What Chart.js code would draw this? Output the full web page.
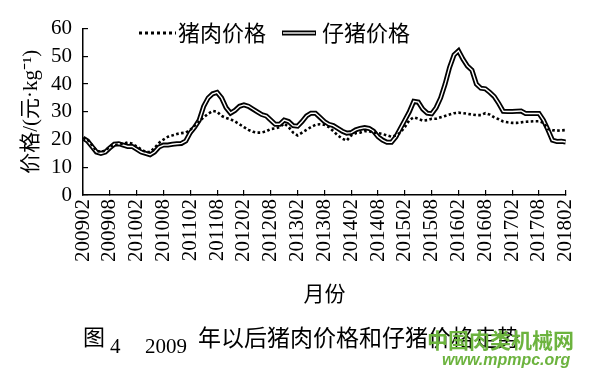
<!DOCTYPE html>
<html>
<head>
<meta charset="utf-8">
<script src="https://cdn.jsdelivr.net/npm/chart.js@4.4.1/dist/chart.umd.min.js"></script>
<style>
html,body{margin:0;padding:0;background:#fff;}
#wrap{position:relative;width:600px;height:371px;}
</style>
</head>
<body>
<div id="wrap"><canvas id="c" width="600" height="371"></canvas></div>
<script>
// x tick labels (every 6 months, 2009-02 .. 2018-02)
const tickLabels = ['200902','200908','201002','201008','201102','201108','201202','201208',
  '201302','201308','201402','201408','201502','201508','201602','201608','201702','201708','201802'];
const monthsPerTick = 6;

// 猪肉价格 (pork price, yuan/kg), monthly 2009-02 .. 2018-02
const porkPrice = [
  20.5,20.0,18.0,16.0,15.5,16.0,17.5,18.0,18.3,18.5,
  19.0,18.5,17.5,16.5,15.5,15.5,17.0,18.8,20.0,21.0,
  21.5,22.0,22.3,22.5,23.5,25.0,26.5,28.0,29.3,30.3,
  30.0,28.5,27.8,27.3,26.5,25.5,24.5,23.5,22.8,22.5,
  22.5,23.0,23.8,24.0,24.5,25.8,24.5,22.5,21.5,22.5,
  23.5,24.5,25.3,25.5,25.3,24.5,23.0,21.5,20.3,19.6,
  21.5,22.3,22.5,23.0,23.0,22.5,22.3,22.0,21.5,21.0,
  21.5,22.5,24.5,27.0,28.0,27.5,26.8,27.0,27.5,27.5,
  28.0,28.5,29.0,29.5,29.7,29.5,29.3,29.0,28.8,28.8,
  29.5,29.0,28.0,27.3,26.5,26.2,26.0,26.0,26.2,26.4,
  26.5,26.6,26.6,26.0,23.8,23.4,23.2,23.3,23.4
];

// 仔猪价格 (piglet price, yuan/kg), monthly 2009-02 .. 2018-02
const pigletPrice = [
  20.5,19.5,17.5,15.5,15.0,15.5,17.0,18.3,18.5,18.0,
  17.5,17.5,16.5,15.5,15.0,14.5,15.5,17.3,18.0,18.0,
  18.3,18.5,18.6,19.5,22.5,24.5,27.0,32.0,35.0,36.5,
  37.0,35.0,31.5,29.5,30.5,32.0,32.5,32.0,31.0,30.0,
  29.0,28.5,27.0,25.5,25.5,27.0,26.5,25.0,24.8,26.5,
  28.5,29.5,29.5,28.0,26.5,25.5,25.0,24.0,23.0,22.3,
  22.5,23.5,24.0,24.3,24.0,23.0,21.0,19.8,19.0,19.0,
  21.0,24.0,27.0,30.0,33.8,33.5,31.0,29.5,29.3,31.5,
  35.0,40.0,46.0,50.5,52.0,49.0,46.5,45.0,40.0,38.5,
  38.3,37.0,35.5,33.0,30.2,30.1,30.1,30.2,30.3,29.4,
  29.4,29.4,29.4,27.0,23.5,19.8,19.3,19.4,19.1
];

const seriesNames = ['猪肉价格', '仔猪价格'];
const yTitle = '价格/(元·kg⁻¹)';
const xTitle = '月份';

const SERIF = "'Liberation Serif', 'Times New Roman', serif";
const CJK = "'Noto Sans CJK SC', sans-serif";
const MIXED = "'Liberation Serif', 'Noto Sans CJK SC', serif";

const toPts = arr => arr.map((v, i) => ({x: i, y: v}));

const extras = {
  id: 'extras',
  afterDraw(chart) {
    const ctx = chart.ctx;
    ctx.save();
    // legend
    const ly = 33;
    ctx.strokeStyle = '#000';
    ctx.lineWidth = 3;
    ctx.setLineDash([3, 3]);
    ctx.beginPath(); ctx.moveTo(139, ly); ctx.lineTo(176, ly); ctx.stroke();
    ctx.setLineDash([]);
    ctx.lineWidth = 5;
    ctx.beginPath(); ctx.moveTo(282, ly); ctx.lineTo(316, ly); ctx.stroke();
    ctx.strokeStyle = '#fff'; ctx.lineWidth = 1.4;
    ctx.beginPath(); ctx.moveTo(283, ly); ctx.lineTo(315, ly); ctx.stroke();
    ctx.fillStyle = '#000';
    ctx.font = "22px " + CJK;
    ctx.textBaseline = 'middle';
    ctx.textAlign = 'left';
    ctx.fillText(seriesNames[0], 178, ly);
    ctx.fillText(seriesNames[1], 322, ly);

    // caption
    ctx.font = "22px " + CJK;
    ctx.fillText('图', 83, 337);
    ctx.font = "21px " + SERIF;
    ctx.textBaseline = 'alphabetic';
    ctx.fillText('4', 110, 353);
    ctx.fillText('2009', 145, 353);
    ctx.font = "23px " + CJK;
    ctx.textBaseline = 'middle';
    ctx.fillText('年以后猪肉价格和仔猪价格走势', 198, 337);

    // watermark
    ctx.fillStyle = '#6cb33e';
    ctx.font = "bold 21px " + CJK;
    ctx.fillText('中国肉类机械网', 427, 340);
    ctx.font = "italic bold 16px 'Liberation Sans', Arial, sans-serif";
    ctx.fillText('www.mpmpc.org', 442, 361);
    ctx.restore();
  }
};

new Chart(document.getElementById('c'), {
  type: 'line',
  data: {
    datasets: [
      {label: seriesNames[0], data: toPts(porkPrice), borderColor: '#000', borderWidth: 2.6,
       borderDash: [2.6, 2.4], pointRadius: 0, fill: false, order: 0},
      {label: seriesNames[1], data: toPts(pigletPrice), borderColor: '#fff', borderWidth: 1.4,
       pointRadius: 0, fill: false, order: 1},
      {label: seriesNames[1] + ' outline', data: toPts(pigletPrice), borderColor: '#000', borderWidth: 5,
       pointRadius: 0, fill: false, order: 2}
    ]
  },
  options: {
    responsive: false,
    animation: false,
    devicePixelRatio: 1,
    layout: {padding: {left: 0, right: 30, top: 20, bottom: 0}},
    plugins: {legend: {display: false}, tooltip: {enabled: false}},
    scales: {
      x: {
        type: 'linear', min: 0, max: (tickLabels.length - 1) * monthsPerTick,
        ticks: {
          stepSize: monthsPerTick, autoSkip: false, minRotation: 90, maxRotation: 90,
          color: '#000', font: {family: SERIF, size: 21}, padding: 9,
          callback: v => tickLabels[Math.round(v / monthsPerTick)]
        },
        grid: {drawOnChartArea: false, tickLength: -5, color: '#000', lineWidth: 1.2},
        border: {color: '#000', width: 1.5},
        title: {display: true, text: xTitle, color: '#000', font: {family: CJK, size: 21},
                padding: {top: 65, bottom: 65}},
        afterFit: s => { s.height = 176; }
      },
      y: {
        min: 0, max: 60,
        ticks: {stepSize: 10, autoSkip: false, color: '#000', font: {family: SERIF, size: 21}, padding: 16},
        grid: {drawOnChartArea: false, tickLength: -5, color: '#000', lineWidth: 1.2},
        border: {color: '#000', width: 1.5},
        title: {display: true, text: yTitle, color: '#000', font: {family: MIXED, size: 21},
                padding: {top: 19, bottom: 0}},
        afterFit: s => { s.width = 83; }
      }
    }
  },
  plugins: [extras]
});
</script>
</body>
</html>
